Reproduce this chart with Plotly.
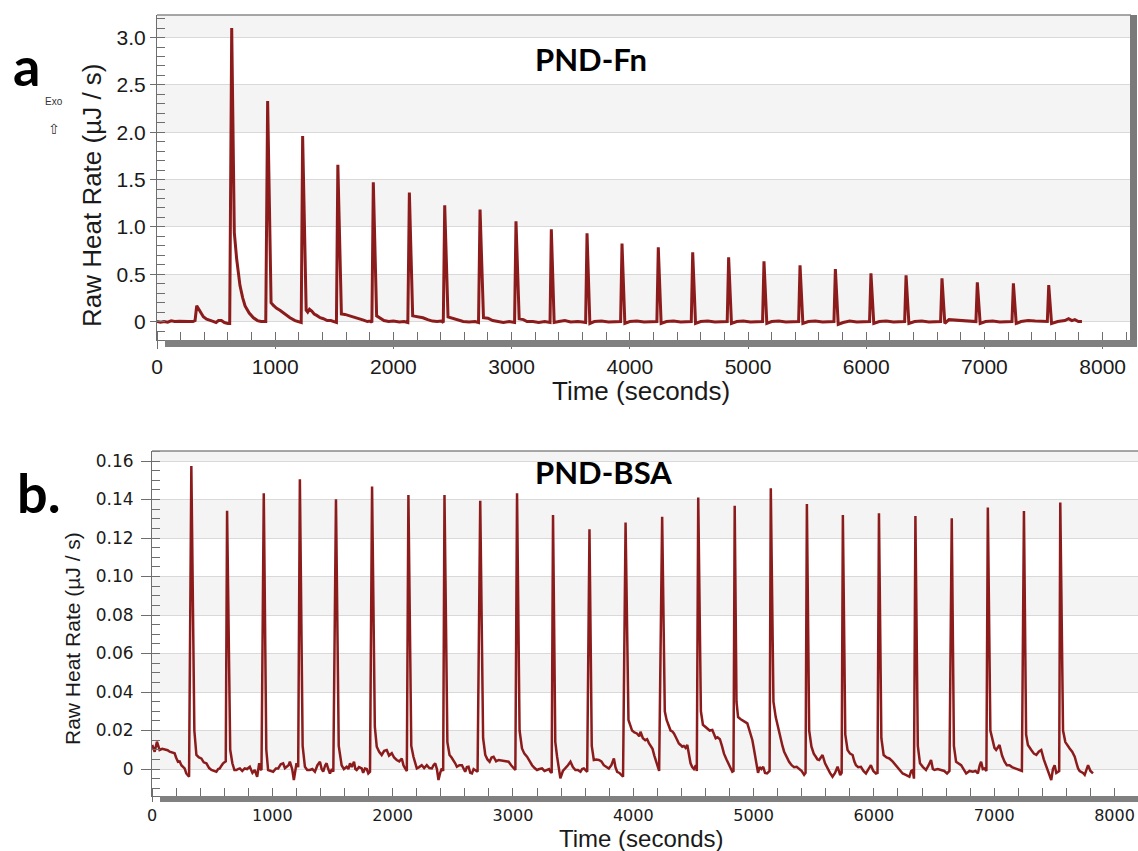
import plotly.graph_objects as go

W, H = 1138, 851


def px(x):
    return x / W


def py(y):
    return 1 - y / H


# ---------------- data: panel a (PND-Fn) ----------------
fn_time = [0, 30, 60, 90, 120, 150, 190, 230, 270, 305, 322,
           336, 360, 392, 420, 450, 480, 500, 520, 545, 570, 600, 615,
           632, 654, 674, 702, 725, 745, 780, 816, 850, 880, 905, 920,
           936, 965, 985, 1012, 1040, 1069, 1100, 1125, 1168, 1200, 1220,
           1232, 1262, 1275, 1290, 1309, 1330, 1351, 1380, 1408, 1440, 1470, 1500, 1518,
           1530, 1560, 1590, 1620, 1660, 1690, 1720, 1747, 1780, 1805, 1818,
           1830, 1858, 1890, 1920, 1960, 2000, 2050, 2090, 2122,
           2135, 2163, 2200, 2250, 2290, 2330, 2370, 2405, 2422,
           2434, 2462, 2500, 2545, 2590, 2640, 2690, 2720,
           2733, 2762, 2800, 2840, 2880, 2930, 2980, 3025,
           3037, 3064, 3100, 3130, 3180, 3230, 3280, 3325,
           3336, 3360, 3400, 3450, 3500, 3560, 3600, 3626,
           3638, 3662, 3700, 3760, 3820, 3880, 3922,
           3934, 3958, 4000, 4060, 4120, 4180, 4229,
           4241, 4265, 4310, 4370, 4430, 4480, 4520,
           4532, 4556, 4600, 4660, 4720, 4780, 4824,
           4836, 4860, 4905, 4960, 5020, 5080, 5123,
           5135, 5159, 5200, 5260, 5320, 5380, 5428,
           5440, 5464, 5510, 5570, 5630, 5690, 5727,
           5739, 5763, 5805, 5860, 5920, 5980, 6028,
           6040, 6064, 6110, 6170, 6230, 6290, 6325,
           6337, 6361, 6410, 6470, 6530, 6590, 6629,
           6641, 6665, 6700, 6760, 6830, 6900, 6928,
           6940, 6964, 7010, 7070, 7130, 7190, 7233,
           7245, 7269, 7310, 7370, 7430, 7490, 7532,
           7544, 7568, 7620, 7680, 7712, 7740, 7765, 7795, 7825]
fn_rate = [0.0, -0.008, 0.0, -0.006, 0.008, 0.0, 0.002, 0.005, 0.0, 0.0, 0.01,
           0.167, 0.12, 0.05, 0.025, 0.015, 0.0, -0.01, 0.01, 0.01, -0.01, -0.02, -0.02,
           3.10, 0.94, 0.66, 0.38, 0.25, 0.165, 0.09, 0.04, 0.01, 0.0, 0.0, 0.0,
           2.33, 0.20, 0.17, 0.14, 0.12, 0.09, 0.06, 0.04, 0.01, 0.0, -0.01,
           1.96, 0.12, 0.10, 0.13, 0.11, 0.08, 0.065, 0.04, 0.03, 0.01, 0.01, 0.0, -0.01,
           1.655, 0.08, 0.075, 0.065, 0.05, 0.04, 0.03, 0.015, 0.0, 0.005, -0.01,
           1.471, 0.06, 0.03, 0.01, 0.0, 0.005, -0.005, 0.0, -0.01,
           1.362, 0.06, 0.05, 0.04, 0.02, 0.005, 0.0, 0.005, -0.01,
           1.228, 0.05, 0.035, 0.01, 0.0, -0.005, 0.0, -0.01,
           1.182, 0.04, 0.035, 0.01, 0.0, -0.01, 0.0, -0.01,
           1.059, 0.03, 0.02, 0.0, 0.0, -0.01, 0.0, -0.01,
           0.974, -0.01, 0.0, 0.01, -0.005, 0.0, -0.005, -0.01,
           0.932, -0.02, 0.0, 0.005, -0.005, 0.0, 0.0,
           0.823, -0.02, 0.0, 0.005, -0.005, 0.0, 0.0,
           0.784, -0.02, 0.0, 0.005, -0.005, 0.0, 0.0,
           0.731, -0.02, 0.0, 0.005, -0.005, 0.0, 0.0,
           0.678, -0.02, 0.0, 0.005, -0.005, 0.0, 0.0,
           0.636, -0.02, 0.0, 0.005, -0.005, 0.0, 0.0,
           0.594, -0.02, 0.0, 0.005, -0.005, 0.0, 0.0,
           0.555, -0.03, -0.01, 0.005, -0.005, 0.0, 0.0,
           0.509, -0.02, 0.0, 0.005, -0.005, 0.0, 0.0,
           0.488, -0.02, 0.0, 0.005, -0.005, 0.0, 0.0,
           0.456, -0.02, 0.02, 0.015, 0.005, 0.0, 0.0,
           0.414, -0.02, 0.0, 0.005, -0.005, 0.0, 0.0,
           0.403, -0.02, 0.0, 0.01, 0.005, 0.0, 0.0,
           0.386, -0.02, 0.0, 0.01, 0.03, 0.01, 0.02, 0.0, 0.0]

# ---------------- data: panel b (PND-BSA) ----------------
bsa_time = [2, 22, 41, 63, 85, 105, 130, 147, 170, 188, 200, 216, 230, 244, 260, 271, 285, 298, 308,
            327, 352, 369, 390, 410, 430, 452, 475, 494, 515, 535, 550, 563, 580, 591, 613,
            624, 650, 668, 685, 702, 715, 730, 750, 771, 790, 813, 835, 854, 874, 891, 900, 910,
            929, 950, 965, 985, 1007, 1030, 1049, 1070, 1090, 1105, 1118, 1135, 1146, 1165, 1179, 1190, 1201, 1215,
            1229, 1252, 1271, 1290, 1312, 1333, 1354, 1375, 1396, 1410, 1423, 1440, 1451, 1465, 1479, 1495, 1507,
            1529, 1552, 1576, 1595, 1618, 1632, 1646, 1660, 1679, 1690, 1701, 1720, 1743, 1755, 1770, 1785, 1798, 1812,
            1829, 1852, 1868, 1888, 1909, 1930, 1951, 1970, 1993, 2012, 2034, 2055, 2076, 2090, 2104, 2118,
            2131, 2155, 2173, 2187, 2201, 2220, 2242, 2262, 2284, 2305, 2326, 2340, 2354, 2368, 2381, 2395, 2409, 2420,
            2431, 2455, 2473, 2490, 2506, 2520, 2534, 2555, 2576, 2590, 2603, 2617, 2631, 2645, 2659, 2673, 2687, 2706,
            2728, 2752, 2770, 2788, 2806, 2822, 2839, 2860, 2881, 2900, 2923, 2940, 2964, 2985, 3006, 3020,
            3034, 3055, 3075, 3095, 3117, 3138, 3159, 3180, 3200, 3220, 3242, 3262, 3284, 3300, 3311, 3322,
            3333, 3352, 3367, 3380, 3394, 3415, 3436, 3457, 3478, 3498, 3519, 3540, 3561, 3575, 3589, 3605, 3617,
            3636, 3655, 3672, 3693, 3714, 3735, 3755, 3776, 3797, 3818, 3839, 3852, 3866, 3885, 3900, 3915,
            3936, 3960, 3990, 4010, 4030, 4050, 4060, 4080, 4100, 4115, 4130, 4145, 4160, 4175, 4190, 4205, 4215,
            4240, 4262, 4277, 4295, 4310, 4325, 4338, 4358, 4379, 4393, 4407, 4420, 4435, 4449, 4462, 4476, 4490, 4504, 4520, 4528,
            4540, 4562, 4579, 4597, 4615, 4635, 4657, 4670, 4685, 4700, 4720, 4737, 4754, 4775, 4796, 4810, 4823, 4833,
            4843, 4858, 4871, 4890, 4907, 4928, 4948, 4962, 4976, 4990, 5004, 5018, 5028, 5037, 5050, 5065, 5080, 5095, 5112, 5125, 5133,
            5143, 5165, 5184, 5205, 5226, 5240, 5254, 5275, 5295, 5316, 5337, 5358, 5379, 5400, 5420, 5432,
            5443, 5462, 5481, 5500, 5517, 5531, 5545, 5560, 5573, 5594, 5614, 5635, 5656, 5677, 5698, 5710, 5720, 5732,
            5742, 5762, 5781, 5802, 5823, 5837, 5851, 5870, 5892, 5913, 5934, 5955, 5975, 5995, 6017, 6030,
            6042, 6062, 6081, 6105, 6128, 6155, 6184, 6210, 6239, 6265, 6295, 6310, 6322, 6333,
            6345, 6365, 6383, 6408, 6433, 6455, 6475, 6490, 6503, 6530, 6558, 6585, 6608, 6628,
            6647, 6665, 6683, 6705, 6725, 6745, 6767, 6795, 6822, 6845, 6864, 6880, 6891, 6905, 6919, 6935,
            6947, 6968, 6988, 7002, 7016, 7030, 7044, 7065, 7086, 7105, 7127, 7148, 7169, 7190, 7211, 7230,
            7247, 7265, 7280, 7294, 7308, 7330, 7350, 7370, 7391, 7412, 7433, 7450, 7474, 7488, 7502, 7516, 7530, 7540,
            7549, 7572, 7591, 7610, 7627, 7648, 7669, 7684, 7697, 7710, 7724, 7738, 7752, 7766, 7780, 7800, 7821]
bsa_rate = [0.0125, 0.009, 0.0142, 0.0099, 0.0105, 0.0102, 0.0098, 0.009, 0.0085, 0.0082, 0.006, 0.0038, 0.004, 0.002, 0.001, 0.0003, -0.0023, -0.003, -0.004,
            0.1574, 0.02, 0.0073, 0.006, 0.0055, 0.0035, 0.003, 0.0005, -0.0005, -0.001, -0.0014, 0.0, 0.0003, 0.002, 0.003, 0.004,
            0.1342, 0.01, 0.003, -0.0005, -0.0005, 0.0, 0.0003, -0.001, 0.0003, 0.0, 0.0012, -0.002, -0.0005, -0.004, 0.003, 0.0, -0.0005,
            0.1432, 0.01, -0.0005, -0.001, -0.0014, 0.0003, 0.0003, 0.0025, 0.003, 0.0005, 0.0012, 0.002, 0.0038, 0.0, -0.0057, 0.0, 0.003, 0.001,
            0.1505, 0.012, 0.0012, -0.0005, -0.0005, 0.0, -0.0014, 0.002, 0.0038, 0.0, -0.0014, 0.002, 0.003, 0.0, -0.0023, 0.0, -0.0014,
            0.1401, 0.012, 0.002, 0.0, 0.0012, 0.0, 0.003, 0.001, 0.0038, 0.0, -0.0005, 0.001, 0.0003, -0.002, 0.0003, 0.0, -0.0023, -0.0014,
            0.1467, 0.022, 0.0116, 0.009, 0.0073, 0.0095, 0.0099, 0.007, 0.0082, 0.006, 0.0047, 0.004, 0.0055, 0.002, 0.0003, -0.001,
            0.1423, 0.012, 0.0064, 0.003, 0.0003, 0.001, 0.002, 0.0005, 0.002, 0.0005, 0.0003, 0.002, 0.003, 0.0, -0.0057, -0.002, 0.0003, -0.001,
            0.1423, 0.014, 0.0073, 0.006, 0.0047, 0.003, 0.0012, 0.002, 0.002, 0.0, -0.0014, 0.001, 0.0012, -0.002, -0.0023, 0.0, -0.0005, -0.0014,
            0.1394, 0.016, 0.0073, 0.005, 0.0038, 0.006, 0.0064, 0.004, 0.0047, 0.0045, 0.0043, 0.004, 0.0038, 0.002, 0.0003, -0.0005,
            0.1432, 0.02, 0.0107, 0.008, 0.0064, 0.004, 0.002, 0.0005, -0.0005, 0.0, 0.0003, -0.001, -0.0005, 0.0, -0.0014, -0.002,
            0.1319, 0.014, 0.0064, 0.0, -0.0048, -0.001, 0.0003, 0.002, 0.0038, 0.001, -0.0005, -0.0005, -0.0014, 0.0, 0.0003, -0.001, -0.0014,
            0.1245, 0.012, 0.0047, 0.005, 0.0047, 0.004, 0.002, 0.001, 0.0003, 0.002, 0.0055, 0.001, -0.0014, -0.002, -0.0031, -0.004,
            0.128, 0.0255, 0.020, 0.019, 0.0185, 0.017, 0.0194, 0.016, 0.015, 0.0155, 0.0135, 0.012, 0.0105, 0.007, 0.004, 0.001, -0.001,
            0.1311, 0.03, 0.0255, 0.022, 0.02, 0.0195, 0.0185, 0.016, 0.0133, 0.0125, 0.0116, 0.012, 0.011, 0.0125, 0.008, 0.003, 0.001, 0.0, 0.002, -0.001,
            0.141, 0.03, 0.023, 0.022, 0.021, 0.02, 0.0203, 0.018, 0.016, 0.0165, 0.0155, 0.012, 0.008, 0.005, 0.002, 0.0, -0.0014, -0.001,
            0.1368, 0.035, 0.027, 0.026, 0.0255, 0.0245, 0.0237, 0.021, 0.018, 0.015, 0.01, 0.0055, 0.001, -0.002, 0.001, 0.0, 0.0012, -0.002, -0.0023, -0.0014, -0.001,
            0.1458, 0.035, 0.027, 0.021, 0.016, 0.012, 0.009, 0.006, 0.0038, 0.002, 0.001, 0.0012, 0.0003, -0.001, -0.003, -0.002,
            0.1377, 0.02, 0.0116, 0.008, 0.0064, 0.005, 0.0047, 0.006, 0.0073, 0.003, 0.0003, -0.002, -0.004, -0.002, 0.0012, -0.001, -0.0031, -0.002,
            0.1319, 0.018, 0.0099, 0.008, 0.0073, 0.004, 0.002, 0.001, 0.0012, -0.001, -0.0023, 0.0, 0.002, -0.001, -0.0023, -0.002,
            0.1328, 0.016, 0.0073, 0.006, 0.0055, 0.004, 0.002, 0.0, -0.0023, -0.003, -0.004, -0.001, -0.0005, -0.005,
            0.1314, 0.012, 0.003, 0.001, -0.0005, 0.002, 0.0047, 0.0, -0.0005, 0.0, -0.0005, -0.001, -0.0023, -0.001,
            0.1302, 0.012, 0.0038, 0.003, 0.002, 0.0, -0.0023, -0.001, -0.0014, -0.001, -0.0023, 0.002, 0.0038, 0.0, 0.0003, -0.001,
            0.1359, 0.02, 0.014, 0.011, 0.0099, 0.011, 0.0125, 0.007, 0.0038, 0.002, 0.002, 0.001, 0.0003, 0.0, -0.0005, -0.001,
            0.134, 0.018, 0.0125, 0.011, 0.0099, 0.008, 0.0073, 0.009, 0.0099, 0.005, 0.0012, -0.002, -0.0057, 0.0, 0.002, -0.002, -0.0014, -0.001,
            0.1384, 0.02, 0.014, 0.012, 0.0107, 0.009, 0.0064, 0.003, 0.0003, -0.001, -0.0014, -0.002, -0.003, 0.0, 0.002, -0.001, -0.0023]

# ---------------- ticks ----------------
time_ticks = [0, 1000, 2000, 3000, 4000, 5000, 6000, 7000, 8000]
time_ticklabels = ["0", "1000", "2000", "3000", "4000", "5000", "6000", "7000", "8000"]
fn_yticks = [0, 0.5, 1.0, 1.5, 2.0, 2.5, 3.0]
fn_yticklabels = ["0", "0.5", "1.0", "1.5", "2.0", "2.5", "3.0"]
bsa_yticks = [0, 0.02, 0.04, 0.06, 0.08, 0.10, 0.12, 0.14, 0.16]
bsa_yticklabels = ["0", "0.02", "0.04", "0.06", "0.08", "0.10", "0.12", "0.14", "0.16"]
fn_bands = [(0, 0.5), (1.0, 1.5), (2.0, 2.5), (3.0, 3.3)]
bsa_bands = [(0, 0.02), (0.04, 0.06), (0.08, 0.10), (0.12, 0.14), (0.16, 0.17)]

LINE = "#8c1c1c"
TXT = "#1a1a1a"
AX = "#6e6e6e"
GRID = "#d9d9d9"
BAND = "#f4f4f4"
ARIAL = "Arial, Liberation Sans"

fig = go.Figure()
fig.add_trace(go.Scatter(x=fn_time, y=fn_rate, mode="lines",
                         line=dict(color=LINE, width=3),
                         xaxis="x", yaxis="y", showlegend=False, hoverinfo="skip"))
fig.add_trace(go.Scatter(x=bsa_time, y=bsa_rate, mode="lines",
                         line=dict(color=LINE, width=2.5),
                         xaxis="x2", yaxis="y2", showlegend=False, hoverinfo="skip"))

shapes = []
for lo, hi in fn_bands:
    shapes.append(dict(type="rect", xref="x domain", yref="y", x0=0, x1=1, y0=lo, y1=hi,
                       fillcolor=BAND, line=dict(width=0), layer="below"))
for lo, hi in bsa_bands:
    shapes.append(dict(type="rect", xref="x2 domain", yref="y2", x0=0, x1=1, y0=lo, y1=hi,
                       fillcolor=BAND, line=dict(width=0), layer="below"))

# frame decorations
shapes += [
    dict(type="line", xref="paper", yref="paper", x0=px(157), x1=px(1131), y0=py(15), y1=py(15),
         line=dict(color="#8a8a8a", width=1.5)),
    dict(type="rect", xref="paper", yref="paper", x0=px(1130), x1=px(1137), y0=py(346), y1=py(15),
         fillcolor="#7a7a7a", line=dict(width=0)),
    dict(type="rect", xref="paper", yref="paper", x0=px(165), x1=px(1137), y0=py(347), y1=py(340),
         fillcolor="#808080", line=dict(width=0)),
    dict(type="line", xref="paper", yref="paper", x0=px(152), x1=px(1138), y0=py(451), y1=py(451),
         line=dict(color="#8a8a8a", width=1.5)),
    dict(type="rect", xref="paper", yref="paper", x0=px(160), x1=px(1138), y0=py(802), y1=py(796),
         fillcolor="#808080", line=dict(width=0)),
]


def ann(text, x, y, size, family=ARIAL, color=TXT, angle=0):
    return dict(text=text, x=px(x), y=py(y), xref="paper", yref="paper",
                xanchor="center", yanchor="middle", textangle=angle, showarrow=False,
                font=dict(family=family, size=size, color=color))


annotations = [
    ann("Raw Heat Rate (µJ / s)", 92, 195, 26, angle=-90),
    ann("Time (seconds)", 641, 391, 26),
    ann("Raw Heat Rate (µJ / s)", 72, 639, 21, angle=-90),
    ann("Time (seconds)", 641, 838, 24),
    ann("<b>PND-Fn</b>", 591, 59, 31, family="Lato", color="#000"),
    ann("<b>PND-BSA</b>", 603, 472, 31, family="Lato", color="#000"),
    ann("<b>a</b>", 26, 66, 54, family="Lato", color="#000"),
    ann("<b>b.</b>", 38, 492, 54, family="Lato", color="#000"),
    ann("Exo", 54, 101, 10, color="#333"),
    ann("⇧", 54, 129, 14, family="DejaVu Sans", color="#333"),
]

minor_x = dict(dtick=200, tick0=0, ticks="inside", ticklen=8, tickcolor=AX, showgrid=False)

fig.update_layout(
    width=W, height=H,
    margin=dict(l=0, r=0, t=0, b=0, pad=0, autoexpand=False),
    paper_bgcolor="white", plot_bgcolor="white",
    showlegend=False,
    xaxis=dict(domain=[px(157), px(1131)], range=[0, 8240], anchor="y",
               tickmode="array", tickvals=time_ticks, ticktext=time_ticklabels,
               ticks="outside", ticklen=8, tickcolor=AX, tickwidth=1,
               showline=True, linecolor=AX, linewidth=1,
               showgrid=False, zeroline=False, automargin=False, minor=minor_x,
               tickfont=dict(family=ARIAL, size=21, color=TXT)),
    yaxis=dict(domain=[py(340), py(15)], range=[-0.195, 3.238], anchor="x",
               tickmode="array", tickvals=fn_yticks, ticktext=fn_yticklabels,
               ticks="outside", ticklen=6, tickcolor=AX, automargin=False,
               showline=True, linecolor=AX, linewidth=1,
               showgrid=True, gridcolor=GRID, gridwidth=1, zeroline=False,
               minor=dict(dtick=0.1, tick0=0, ticks="inside", ticklen=8, tickcolor=AX, showgrid=False),
               tickfont=dict(family=ARIAL, size=21, color=TXT)),
    xaxis2=dict(domain=[px(152), 1.0], range=[0, 8195], anchor="y2",
                tickmode="array", tickvals=time_ticks, ticktext=time_ticklabels,
                ticks="outside", ticklen=5, tickcolor=AX, tickwidth=1,
                showline=True, linecolor=AX, linewidth=1,
                showgrid=False, zeroline=False, automargin=False, minor=minor_x,
                tickfont=dict(family="DejaVu Sans", size=16, color=TXT)),
    yaxis2=dict(domain=[py(796), py(451)], range=[-0.014, 0.1652], anchor="x2",
                tickmode="array", tickvals=bsa_yticks, ticktext=bsa_yticklabels,
                ticks="outside", ticklen=10, tickcolor=AX, automargin=False,
                ticklabelstandoff=4,
                showline=True, linecolor=AX, linewidth=1,
                showgrid=True, gridcolor=GRID, gridwidth=1, zeroline=False,
                minor=dict(dtick=0.005, tick0=0, ticks="inside", ticklen=8, tickcolor=AX, showgrid=False),
                tickfont=dict(family="DejaVu Sans", size=17, color=TXT)),
    shapes=shapes,
    annotations=annotations,
)

fig.write_html("out.html", config={"displayModeBar": False},
               post_script="document.body.style.margin='0px';document.body.style.overflow='hidden';")
